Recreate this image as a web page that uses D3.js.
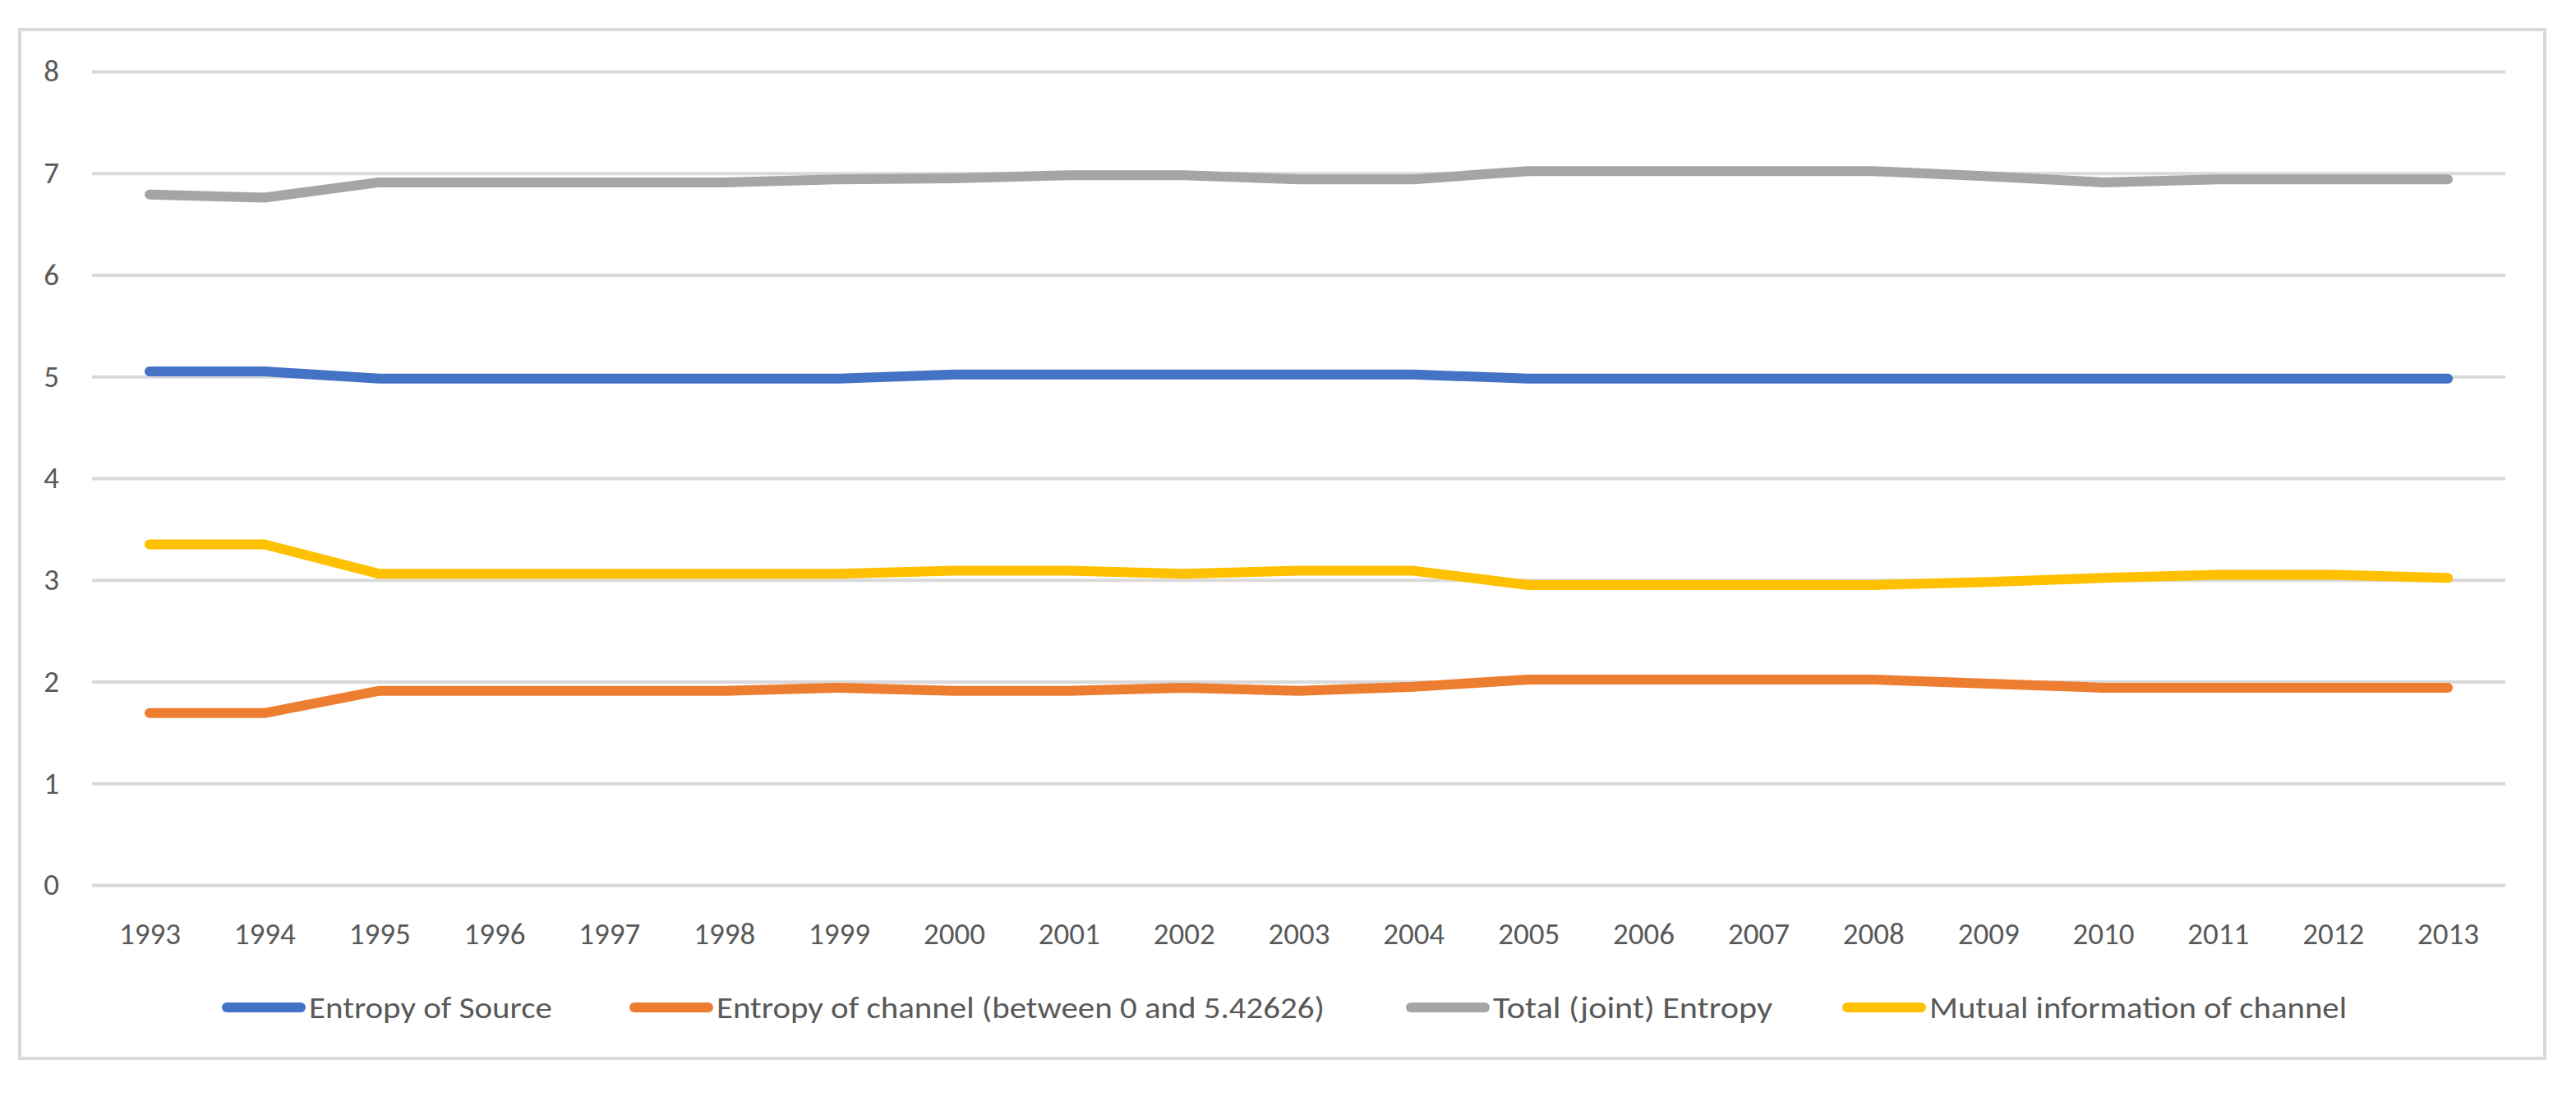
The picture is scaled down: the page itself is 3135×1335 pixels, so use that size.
<!DOCTYPE html>
<html>
<head>
<meta charset="utf-8">
<script src="https://cdn.jsdelivr.net/npm/d3@7"></script>
<style>
  body { margin: 0; background: #ffffff; }
  text { font-family: Carlito, Calibri, Lato, sans-serif; fill: #595959; }
</style>
</head>
<body>
<div id="chart"></div>
<script>
// Categories and series
var years = ["1993", "1994", "1995", "1996", "1997", "1998", "1999", "2000", "2001", "2002", "2003",
    "2004", "2005", "2006", "2007", "2008", "2009", "2010", "2011", "2012", "2013"];

var entropySource = [5.05, 5.05, 4.98, 4.98, 4.98, 4.98, 4.98, 5.02, 5.02, 5.02, 5.02,
    5.02, 4.98, 4.98, 4.98, 4.98, 4.98, 4.98, 4.98, 4.98, 4.98];
var entropyChannel = [1.69, 1.69, 1.91, 1.91, 1.91, 1.91, 1.94, 1.91, 1.91, 1.94, 1.91,
    1.95, 2.02, 2.02, 2.02, 2.02, 1.98, 1.94, 1.94, 1.94, 1.94];
var totalEntropy = [6.79, 6.76, 6.91, 6.91, 6.91, 6.91, 6.94, 6.95, 6.98, 6.98, 6.94,
    6.94, 7.02, 7.02, 7.02, 7.02, 6.97, 6.91, 6.94, 6.94, 6.94];
var mutualInfo = [3.35, 3.35, 3.06, 3.06, 3.06, 3.06, 3.06, 3.09, 3.09, 3.06, 3.09,
    3.09, 2.95, 2.95, 2.95, 2.95, 2.98, 3.02, 3.05, 3.05, 3.02];

var yTicks = [0, 1, 2, 3, 4, 5, 6, 7, 8];

var seriesNames = ["Entropy of Source", "Entropy of channel (between 0 and 5.42626)",
    "Total (joint) Entropy", "Mutual information of channel"];
var seriesColors = ["#4472C4", "#ED7D31", "#A5A5A5", "#FFC000"];

var svgWidth = 3135;
var svgHeight = 1335;

var plot = { left: 112, right: 3049, top: 87, bottom: 1077 };

var svg = d3.select("#chart")
    .append("svg")
    .attr("width", svgWidth)
    .attr("height", svgHeight);

// chart border
svg.append("rect")
    .attr("x", 24)
    .attr("y", 36)
    .attr("width", 3073)
    .attr("height", 1252)
    .attr("fill", "#ffffff")
    .attr("stroke", "#D9D9D9")
    .attr("stroke-width", 4);

// Scales
var xScale = d3.scalePoint()
    .domain(years)
    .range([plot.left, plot.right])
    .padding(0.5);

var yScale = d3.scaleLinear()
    .domain([0, 8])
    .range([plot.bottom, plot.top]);

// Axes
var leftAxis = d3.axisLeft(yScale)
    .tickValues(yTicks)
    .tickSize(-(plot.right - plot.left))
    .tickPadding(40)
    .tickFormat(d3.format("d"));

var yAxisGroup = svg.append("g")
    .attr("transform", `translate(${plot.left}, 0)`)
    .call(leftAxis);
yAxisGroup.select(".domain").remove();
yAxisGroup.selectAll("line")
    .attr("stroke", "#D9D9D9")
    .attr("stroke-width", 4);
yAxisGroup.selectAll("text")
    .attr("font-size", 37)
    .attr("font-family", null)
    .attr("fill", "#595959");

var bottomAxis = d3.axisBottom(xScale)
    .tickSize(0)
    .tickPadding(46);

var xAxisGroup = svg.append("g")
    .attr("transform", `translate(0, ${plot.bottom})`)
    .call(bottomAxis);
xAxisGroup.select(".domain").remove();
xAxisGroup.selectAll("text")
    .attr("font-size", 37)
    .attr("font-family", null)
    .attr("fill", "#595959");

// Lines
var allSeries = [entropySource, entropyChannel, totalEntropy, mutualInfo];

var line = d3.line()
    .x((d, i) => xScale(years[i]))
    .y(d => yScale(d));

svg.append("g")
    .selectAll("path")
    .data(allSeries)
    .enter()
    .append("path")
    .attr("d", d => line(d))
    .attr("fill", "none")
    .attr("stroke", (d, i) => seriesColors[i])
    .attr("stroke-width", 12)
    .attr("stroke-linecap", "round")
    .attr("stroke-linejoin", "round");

// Legend
var legendX = [270, 766, 1711, 2242];
var legendTextWidth = [296, 740, 340, 508];
var legendY = 1226;

var legend = svg.append("g")
    .selectAll("g")
    .data(seriesNames)
    .enter()
    .append("g")
    .attr("transform", (d, i) => `translate(${legendX[i]}, ${legendY})`);

legend.append("line")
    .attr("x1", 6)
    .attr("x2", 96)
    .attr("stroke", (d, i) => seriesColors[i])
    .attr("stroke-width", 12)
    .attr("stroke-linecap", "round");

legend.append("text")
    .attr("x", 106)
    .attr("y", 13)
    .attr("font-size", 37)
    .attr("textLength", (d, i) => legendTextWidth[i])
    .attr("lengthAdjust", "spacingAndGlyphs")
    .text(d => d);
</script>
</body>
</html>
